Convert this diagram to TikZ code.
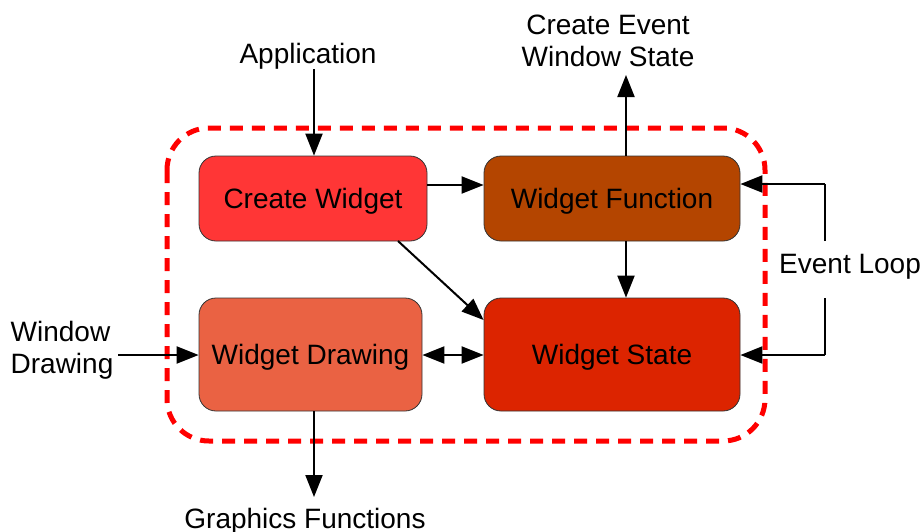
\documentclass[tikz,border=0pt]{standalone}
\usepackage{fontspec}
\setmainfont{Liberation Sans}
\usetikzlibrary{arrows.meta}
\definecolor{cwfill}{HTML}{FF3636}
\definecolor{wffill}{HTML}{B44500}
\definecolor{wdfill}{HTML}{EA6243}
\definecolor{wsfill}{HTML}{DC2400}
\begin{document}
\begin{tikzpicture}[x=1pt,y=-1pt,
  box/.style={draw=black!80,line width=0.8pt,rounded corners=17pt,inner sep=0pt,
    text depth=0pt,font=\fontsize{28}{32}\selectfont},
  lbl/.style={font=\fontsize{28}{32}\selectfont,align=center,inner sep=0pt,text depth=0pt},
  conn/.style={line width=2pt,-{Triangle[length=22pt,width=17pt]}},
  bconn/.style={line width=2pt,{Triangle[length=22pt,width=17pt]}-{Triangle[length=22pt,width=17pt]}},
  plain/.style={line width=2pt}]
\useasboundingbox (0,0) rectangle (924,531);
% dashed boundary
\draw[red,line width=5pt,dash pattern=on 13pt off 9pt,rounded corners=42pt]
  (167,128) rectangle (765,441);
% blocks
\node[box,fill=cwfill,minimum width=228pt,minimum height=85pt] (cw) at (313,198.5) {Create Widget};
\node[box,fill=wffill,minimum width=256pt,minimum height=85pt] (wf) at (612,198.5) {Widget Function};
\node[box,fill=wdfill,minimum width=223pt,minimum height=113pt] (wd) at (310.5,354.5) {Widget Drawing};
\node[box,fill=wsfill,minimum width=256pt,minimum height=113pt] (ws) at (612,354.5) {Widget State};
% outside labels
\node[lbl] (app) at (308,53) {Application};
\node[lbl] (cews) at (608,41) {Create Event\\Window State};
\node[lbl,align=left] (wdraw) at (62,347) {Window\\Drawing};
\node[lbl] (gf) at (305,518) {Graphics Functions};
\node[lbl,anchor=west] (el) at (779,264) {Event Loop};
% loose ends
\coordinate (append) at (314,69);
\coordinate (cewsend) at (626,75);
\coordinate (wdrawend) at (118,355);
\coordinate (gfend) at (314,497);
\coordinate (eltop) at (825,184);
\coordinate (eltopend) at (825,241);
\coordinate (elbot) at (825,355);
\coordinate (elbotend) at (825,298);
% connectors
\draw[conn] (append) -- (append |- cw.north);
\draw[conn] (cw.east |- 0,185) -- (wf.west |- 0,185);
\draw[conn] (wf.north -| cewsend) -- (cewsend);
\draw[conn] (wf.south -| cewsend) -- (ws.north -| cewsend);
\draw[conn] (398,241) -- (ws.west |- 0,320);
\draw[bconn] (wd.east |- 0,355) -- (ws.west |- 0,355);
\draw[conn] (wdrawend) -- (wd.west |- wdrawend);
\draw[conn] (wd.south -| gfend) -- (gfend);
\draw[plain] (eltopend) -- (eltop);
\draw[conn] (eltop) -- (wf.east |- eltop);
\draw[plain] (elbotend) -- (elbot);
\draw[conn] (elbot) -- (ws.east |- elbot);
\end{tikzpicture}
\end{document}
